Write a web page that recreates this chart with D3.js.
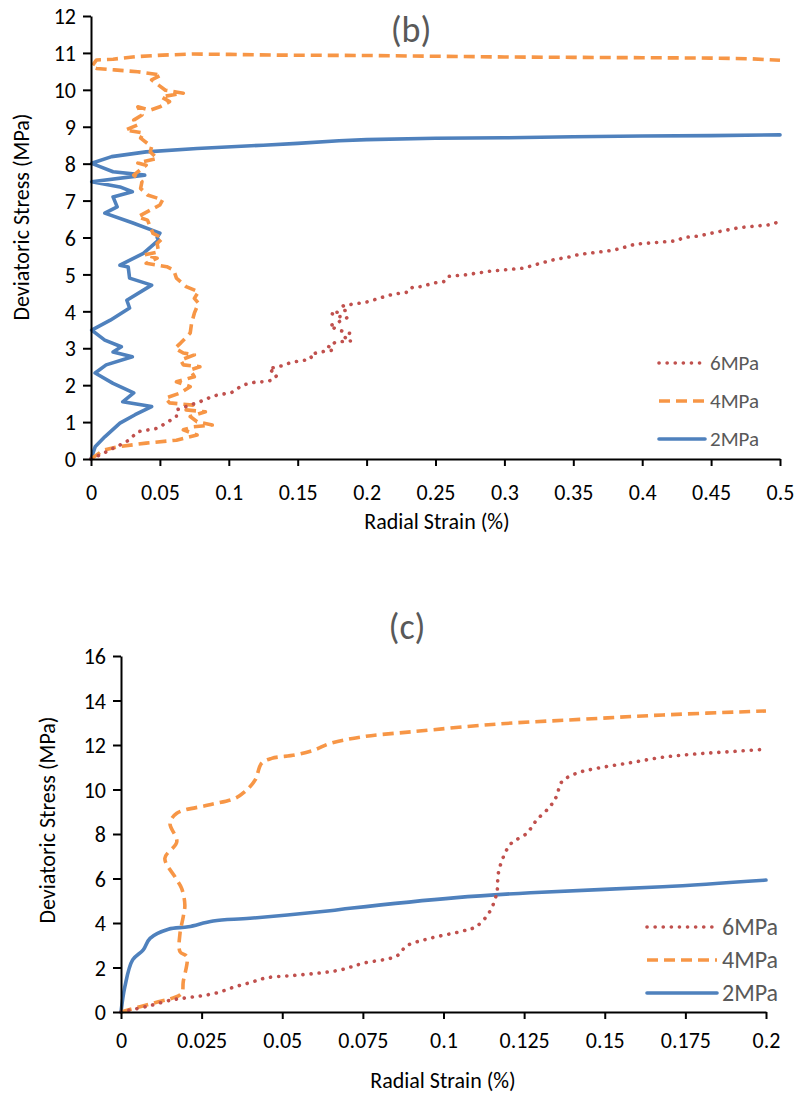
<!DOCTYPE html>
<html><head><meta charset="utf-8">
<script src="https://cdn.jsdelivr.net/npm/d3@7"></script>
<style>
body{margin:0;background:#fff;}
svg{display:block;}
text{font-family:Carlito,"Liberation Sans Narrow","Open Sans",sans-serif;}
</style></head>
<body>
<svg id="chart" width="798" height="1097"></svg>
<script>
// ---------- Data (b) ----------
const seriesNames = ["6MPa","4MPa","2MPa"];
const xTicksB = [0,0.05,0.1,0.15,0.2,0.25,0.3,0.35,0.4,0.45,0.5];
const xTickLabelsB = ["0","0.05","0.1","0.15","0.2","0.25","0.3","0.35","0.4","0.45","0.5"];
const yTicksB = [0,1,2,3,4,5,6,7,8,9,10,11,12];

const strainB2 = [0,0.003,0.010,0.021,0.032,0.044,0.023,0.031,0.016,0.003,0.011,0.030,0.016,0.022,0.010,0.0005,0.014,0.028,0.026,0.044,0.028,0.027,0.021,0.038,0.049,0.048,0.050,0.030,0.010,0.019,0.016,0.030,0.021,0.0005,0.039,0.016,0.0065,0.0005,0.015,0.040,0.077,0.125,0.15,0.18,0.2,0.25,0.3,0.35,0.4,0.45,0.5];
const stressB2 = [0,0.33,0.6,0.97,1.2,1.42,1.55,1.79,2.05,2.33,2.55,2.77,2.9,3.04,3.22,3.49,3.76,4.09,4.3,4.71,4.9,5.2,5.25,5.57,5.93,6.0,6.12,6.4,6.66,6.83,7.1,7.24,7.37,7.51,7.69,7.78,7.92,8.01,8.19,8.32,8.41,8.50,8.55,8.62,8.65,8.69,8.70,8.73,8.75,8.76,8.78];

const strainB4 = [0,0.009,0.019,0.040,0.062,0.077,0.067,0.074,0.088,0.077,0.072,0.083,0.069,0.074,0.057,0.054,0.065,0.072,0.062,0.075,0.072,0.079,0.067,0.065,0.075,0.067,0.061,0.065,0.072,0.073,0.075,0.078,0.075,0.078,0.069,0.062,0.060,0.055,0.040,0.048,0.039,0.049,0.048,0.052,0.045,0.041,0.034,0.043,0.050,0.052,0.041,0.036,0.037,0.031,0.040,0.034,0.048,0.043,0.044,0.036,0.038,0.025,0.034,0.031,0.037,0.034,0.043,0.050,0.057,0.051,0.067,0.054,0.044,0.051,0.034,0.017,0.004,0.0005,0.004,0.016,0.033,0.052,0.074,0.101,0.137,0.2,0.25,0.3,0.35,0.4,0.45,0.48,0.5];
const stressB4 = [0,0.24,0.33,0.43,0.51,0.65,0.79,0.87,0.92,1.01,1.15,1.28,1.33,1.46,1.52,1.65,1.79,1.96,2.09,2.23,2.41,2.5,2.55,2.68,2.82,2.87,3.0,3.14,3.41,3.68,3.95,4.22,4.35,4.53,4.67,4.9,5.12,5.21,5.3,5.44,5.53,5.61,5.84,5.98,6.11,6.47,6.56,6.74,6.88,7.02,7.15,7.33,7.51,7.69,7.96,8.02,8.14,8.32,8.46,8.69,8.83,8.91,9.05,9.18,9.32,9.54,9.45,9.54,9.68,9.81,9.91,9.99,10.27,10.40,10.49,10.54,10.58,10.63,10.81,10.83,10.9,10.94,10.97,10.96,10.94,10.93,10.91,10.89,10.88,10.87,10.86,10.84,10.80];

const strainB6 = [0,0.0065,0.021,0.027,0.034,0.048,0.056,0.062,0.062,0.072,0.079,0.089,0.096,0.102,0.110,0.120,0.126,0.132,0.135,0.132,0.129,0.132,0.138,0.144,0.149,0.156,0.160,0.159,0.164,0.170,0.176,0.172,0.178,0.189,0.184,0.188,0.180,0.173,0.179,0.186,0.180,0.174,0.181,0.186,0.183,0.189,0.195,0.201,0.207,0.213,0.218,0.224,0.230,0.231,0.234,0.240,0.246,0.251,0.257,0.260,0.272,0.290,0.314,0.325,0.336,0.348,0.354,0.378,0.383,0.395,0.425,0.430,0.441,0.453,0.471,0.494,0.499,0.5];
const stressB6 = [0,0.11,0.38,0.5,0.74,0.83,1.01,1.15,1.33,1.46,1.55,1.71,1.76,1.8,2.0,2.09,2.09,2.14,2.27,2.36,2.44,2.47,2.52,2.6,2.64,2.68,2.74,2.82,2.88,2.92,2.95,3.06,3.17,3.2,3.3,3.4,3.49,3.6,3.7,3.83,3.86,3.95,3.99,4.04,4.15,4.19,4.22,4.26,4.33,4.40,4.45,4.49,4.52,4.6,4.66,4.67,4.74,4.78,4.81,4.95,4.99,5.09,5.17,5.29,5.40,5.48,5.54,5.65,5.69,5.82,5.91,6.0,6.04,6.14,6.27,6.35,6.43,6.37];

// ---------- Data (c) ----------
const xTicksC = [0,0.025,0.05,0.075,0.1,0.125,0.15,0.175,0.2];
const xTickLabelsC = ["0","0.025","0.05","0.075","0.1","0.125","0.15","0.175","0.2"];
const yTicksC = [0,2,4,6,8,10,12,14,16];

const strainC2 = [0,0.0012,0.0036,0.0069,0.009,0.0147,0.0209,0.0286,0.040,0.0648,0.071,0.104,0.127,0.168,0.2];
const stressC2 = [0,1.14,2.34,2.79,3.31,3.72,3.83,4.09,4.21,4.55,4.66,5.14,5.36,5.63,5.93];

const strainC4 = [0,0.0059,0.0116,0.0157,0.0188,0.0193,0.0204,0.0183,0.0183,0.0193,0.0198,0.0188,0.0167,0.0136,0.0173,0.0152,0.0173,0.0271,0.0353,0.0384,0.0416,0.0436,0.0467,0.054,0.060,0.0648,0.075,0.0906,0.1165,0.1423,0.168,0.2];
const stressC4 = [0,0.24,0.46,0.61,0.84,1.36,2.49,2.71,3.54,4.28,4.81,5.56,6.08,6.91,7.65,8.48,8.93,9.3,9.6,9.9,10.43,11.18,11.4,11.55,11.78,12.07,12.37,12.6,12.94,13.15,13.35,13.53];

const strainC6 = [0,0.008,0.0157,0.0204,0.025,0.030,0.0348,0.040,0.0452,0.0524,0.0607,0.068,0.0751,0.0855,0.0886,0.0958,0.106,0.110,0.114,0.1165,0.117,0.1186,0.121,0.1258,0.1289,0.133,0.135,0.1367,0.1413,0.1475,0.1578,0.168,0.1785,0.1888,0.2];
const stressC6 = [0,0.25,0.54,0.64,0.73,0.87,1.11,1.32,1.54,1.63,1.74,1.89,2.19,2.52,2.97,3.31,3.64,3.83,4.43,5.33,6.23,6.98,7.58,8.03,8.63,9.23,9.68,10.35,10.73,10.95,11.2,11.45,11.6,11.7,11.81];

// ---------- Styles ----------
const colors = {"6MPa":"#C0504D","4MPa":"#F79646","2MPa":"#4F81BD"};
const dashes = {"6MPa":"0.1,8","4MPa":"11,6","2MPa":null};
const caps = {"6MPa":"round","4MPa":"butt","2MPa":"round"};
const widths = {"6MPa":3.6,"4MPa":3.6,"2MPa":3.6};

const svg = d3.select("#chart");
const zip = (xs,ys)=>xs.map((x,i)=>[x,ys[i]]);

function drawChart(cfg){
  const g = svg.append("g");
  const x = d3.scaleLinear().domain(cfg.xDomain).range([cfg.left,cfg.right]);
  const y = d3.scaleLinear().domain(cfg.yDomain).range([cfg.bottom,cfg.top]);

  const line = d3.line().x(d=>x(d[0])).y(d=>y(d[1])).curve(cfg.curve);
  const clipId = "clip"+cfg.id;
  svg.append("clipPath").attr("id",clipId).append("rect")
    .attr("x",cfg.left-4).attr("y",cfg.top-10).attr("width",cfg.right-cfg.left+10).attr("height",cfg.bottom-cfg.top+12);

  const order = ["2MPa","4MPa","6MPa"];
  order.forEach(name=>{
    const p = g.append("path").datum(cfg.series[name])
      .attr("d",line).attr("fill","none")
      .attr("stroke",colors[name]).attr("stroke-width",widths[name])
      .attr("stroke-linecap",caps[name]).attr("stroke-linejoin","round")
      .attr("clip-path","url(#"+clipId+")");
    if(dashes[name]) p.attr("stroke-dasharray",dashes[name]);
  });

  const xAxis = d3.axisBottom(x).tickValues(cfg.xTicks).tickFormat((d,i)=>cfg.xLabels[i]).tickSize(7).tickSizeOuter(0);
  const yAxis = d3.axisLeft(y).tickValues(cfg.yTicks).tickSize(8).tickSizeOuter(0);
  const gx = g.append("g").attr("transform",`translate(0,${cfg.bottom})`).call(xAxis);
  const gy = g.append("g").attr("transform",`translate(${cfg.left},0)`).call(yAxis);
  [gx,gy].forEach(a=>{
    a.attr("font-family",null).attr("font-size",null);
    a.select(".domain").attr("stroke","#000").attr("stroke-width",2);
    a.selectAll(".tick line").attr("stroke","#000").attr("stroke-width",2);
    a.selectAll(".tick text").attr("fill","#000").style("font-size","22px");
  });
  gx.selectAll(".tick text").attr("dy","0").attr("y",cfg.xLabelY);
  gy.selectAll(".tick text").attr("x",-15).attr("dy","0.35em");

  g.append("text").attr("x",cfg.titleX).attr("y",cfg.titleY)
    .attr("text-anchor","middle").attr("fill","#595959").style("font-size","36px").text(cfg.title);
  g.append("text").attr("x",cfg.xTitleX).attr("y",cfg.xTitleY)
    .attr("text-anchor","middle").attr("fill","#000").style("font-size","22px").text("Radial Strain (%)");
  g.append("text").attr("transform",`translate(${cfg.yTitleX},${cfg.yTitleY}) rotate(-90)`)
    .attr("text-anchor","middle").attr("fill","#000").style("font-size","22px").text("Deviatoric Stress (MPa)");

  seriesNames.forEach((name,i)=>{
    const ly = cfg.legY + i*cfg.legStep;
    const l = g.append("line").attr("x1",cfg.legX1).attr("x2",cfg.legX2).attr("y1",ly).attr("y2",ly)
      .attr("stroke",colors[name]).attr("stroke-width",widths[name]).attr("stroke-linecap",caps[name]);
    if(dashes[name]) l.attr("stroke-dasharray",dashes[name]);
    g.append("text").attr("x",cfg.legX2+5).attr("y",ly).attr("dy","0.35em")
      .attr("fill","#595959").style("font-size",cfg.legFont).text(name);
  });
}

drawChart({
  id:"b", left:91, right:780, top:16, bottom:459,
  xDomain:[0,0.5], yDomain:[0,12],
  xTicks:xTicksB, xLabels:xTickLabelsB, yTicks:yTicksB,
  series:{"2MPa":zip(strainB2,stressB2),"4MPa":zip(strainB4,stressB4),"6MPa":zip(strainB6,stressB6)},
  curve:d3.curveLinear,
  title:"(b)", titleX:411, titleY:42, xTitleX:437, xTitleY:529, yTitleX:29, yTitleY:217, xLabelY:41,
  legX1:659, legX2:705, legY:363, legStep:38, legFont:"21px"
});

drawChart({
  id:"c", left:121, right:766, top:656, bottom:1012,
  xDomain:[0,0.2], yDomain:[0,16],
  xTicks:xTicksC, xLabels:xTickLabelsC, yTicks:yTicksC,
  series:{"2MPa":zip(strainC2,stressC2),"4MPa":zip(strainC4,stressC4),"6MPa":zip(strainC6,stressC6)},
  curve:d3.curveCatmullRom.alpha(0.5),
  title:"(c)", titleX:407, titleY:639, xTitleX:443, xTitleY:1088, yTitleX:55, yTitleY:820, xLabelY:36,
  legX1:647, legX2:717, legY:927, legStep:33, legFont:"24px"
});
</script>
</body></html>
